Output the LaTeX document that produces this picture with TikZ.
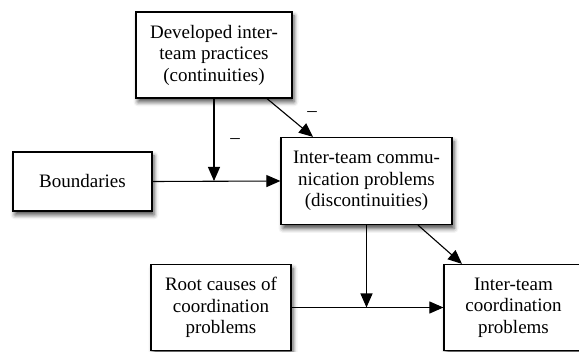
\documentclass[tikz,border=0pt]{standalone}
\usepackage{fontspec}
\setmainfont{Liberation Serif}
\usetikzlibrary{arrows.meta,shadows.blur}
\begin{document}
\begin{tikzpicture}[x=1pt,y=-1pt,
  box/.style={draw=black,line width=1.2pt,fill=white,align=center,
    font=\fontsize{19}{21.5}\selectfont,inner sep=0pt,
    blur shadow={shadow xshift=2pt,shadow yshift=-4pt,shadow blur radius=4.5pt,shadow opacity=70}},
  conn/.style={line width=1.1pt,-{Triangle[length=14pt,width=12pt]}},
  lbl/.style={font=\fontsize{19}{21.5}\selectfont}]
\useasboundingbox (0,0) rectangle (579,352);
\node[box,minimum width=156pt,minimum height=86pt] (top) at (214,55)
  {Developed inter-\\team practices\\(continuities)};
\node[box,minimum width=139pt,minimum height=59pt] (bnd) at (82.5,181.5) {Boundaries};
\node[box,minimum width=171pt,minimum height=87pt] (mid) at (366.5,181)
  {Inter-team commu-\\nication problems\\(discontinuities)};
\node[box,minimum width=140pt,minimum height=86pt] (root) at (221,307.5)
  {Root causes of\\coordination\\problems};
\node[box,minimum width=139pt,minimum height=86pt] (res) at (513.5,307.5)
  {Inter-team\\coordination\\problems};
\coordinate (j1) at (214,181);
\coordinate (j2) at (366.5,307.5);
\draw[conn] (bnd.east) -- (mid.west);
\draw[conn] (top.south) -- (j1);
\draw[conn] ([xshift=53pt]top.south) -- ([xshift=-53.5pt]mid.north);
\draw[conn] (root.east) -- (res.west);
\draw[conn] (mid.south) -- (j2);
\draw[conn] ([xshift=51.5pt]mid.south) -- ([xshift=-51.5pt]res.north);
\node[lbl] (m1) at (312,114) {–};
\node[lbl] (m2) at (235,141) {–};
\end{tikzpicture}
\end{document}
